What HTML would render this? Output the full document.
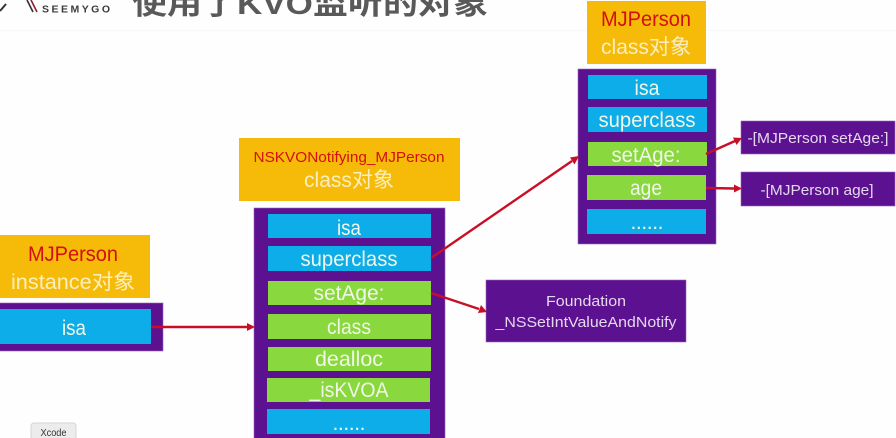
<!DOCTYPE html>
<html><head><meta charset="utf-8"><style>
html,body{margin:0;padding:0;background:#fefefe;width:896px;height:438px;overflow:hidden}
svg{display:block;filter:blur(.35px)}
text{font-family:"Liberation Sans","Noto Sans CJK SC",sans-serif}
.w{fill:#f2f6e8;font-size:21px;text-anchor:middle}
.r{fill:#d40f14;font-size:21px;text-anchor:middle}
.c{fill:#fbeec0;font-size:21px;text-anchor:middle}
.s{fill:#e4d8ec;font-size:15px;text-anchor:middle}
.o{fill:#f6bb08}.p{fill:#5c1190;stroke:#9a66b8;stroke-width:.6}.b{fill:#0cade9}.g{fill:#88d83e}
.a{stroke:#c90f25;stroke-width:2.4;fill:none}.h{fill:#c90f25}
</style></head><body>
<svg width="896" height="438" viewBox="0 0 896 438" xmlns="http://www.w3.org/2000/svg">
<rect width="896" height="438" fill="#fefefe"/>
<rect x="0" y="30" width="896" height="1" fill="#f7f7f7"/>
<path d="M0 11 L6 4" stroke="#333" stroke-width="2" fill="none"/>
<path d="M27 0 L33 12" stroke="#333" stroke-width="1.6" fill="none"/>
<path d="M31 0 L37 12" stroke="#8a1f35" stroke-width="1.6" fill="none"/>
<text x="42" y="12.500" font-size="10.500" font-weight="bold" fill="#3c3c3c" textLength="68" lengthAdjust="spacing">SEEMYGO</text>
<text x="132" y="14" font-size="30" font-weight="bold" fill="#595959" textLength="356" lengthAdjust="spacingAndGlyphs">使用了KVO监听的对象</text>

<!-- right class -->
<rect class="o" x="587" y="1" width="119" height="63"/>
<text class="r" x="646" y="26" textLength="90" lengthAdjust="spacingAndGlyphs">MJPerson</text>
<text class="c" x="646" y="54" textLength="90" lengthAdjust="spacingAndGlyphs">class对象</text>
<rect class="p" x="578" y="69" width="138" height="175"/>
<rect class="b" x="588" y="75" width="119" height="24"/>
<rect class="b" x="588" y="107" width="119" height="25"/>
<rect class="g" x="588" y="142" width="119" height="24"/>
<rect class="g" x="587" y="175" width="119" height="25"/>
<rect class="b" x="587" y="209" width="119" height="25"/>
<text class="w" x="647" y="95" textLength="25" lengthAdjust="spacingAndGlyphs">isa</text>
<text class="w" x="647" y="127" textLength="97" lengthAdjust="spacingAndGlyphs">superclass</text>
<text class="w" x="646" y="162" textLength="69" lengthAdjust="spacingAndGlyphs">setAge:</text>
<text class="w" x="646" y="195" textLength="32" lengthAdjust="spacingAndGlyphs">age</text>
<text class="w" x="647" y="229" textLength="33" lengthAdjust="spacing">......</text>

<rect class="p" x="741" y="121" width="154" height="33"/>
<text class="s" x="818" y="143" textLength="141" lengthAdjust="spacingAndGlyphs">-[MJPerson setAge:]</text>
<rect class="p" x="741" y="172" width="154" height="34"/>
<text class="s" x="817" y="195" textLength="113" lengthAdjust="spacingAndGlyphs">-[MJPerson age]</text>

<!-- middle class -->
<rect class="o" x="239" y="138" width="221" height="63"/>
<text class="r" x="349" y="162" style="font-size:15px" textLength="191" lengthAdjust="spacingAndGlyphs">NSKVONotifying_MJPerson</text>
<text class="c" x="349" y="187" textLength="90" lengthAdjust="spacingAndGlyphs">class对象</text>
<rect class="p" x="254" y="208" width="191" height="232"/>
<rect class="b" x="268" y="214" width="163" height="24"/>
<rect class="b" x="268" y="246" width="163" height="25"/>
<rect class="g" x="268" y="281" width="163" height="24"/>
<rect class="g" x="268" y="314" width="163" height="25"/>
<rect class="g" x="268" y="347" width="163" height="24"/>
<rect class="g" x="267" y="378" width="163" height="24"/>
<rect class="b" x="267" y="409" width="163" height="25"/>
<text class="w" x="349" y="235" textLength="24" lengthAdjust="spacingAndGlyphs">isa</text>
<text class="w" x="349" y="266" textLength="97" lengthAdjust="spacingAndGlyphs">superclass</text>
<text class="w" x="349" y="300" textLength="71" lengthAdjust="spacingAndGlyphs">setAge:</text>
<text class="w" x="349" y="334" textLength="44" lengthAdjust="spacingAndGlyphs">class</text>
<text class="w" x="349" y="366" textLength="68" lengthAdjust="spacingAndGlyphs">dealloc</text>
<text class="w" x="349" y="397" textLength="79" lengthAdjust="spacingAndGlyphs">_isKVOA</text>
<text class="w" x="349" y="430" textLength="33" lengthAdjust="spacing">......</text>

<!-- left instance -->
<rect class="o" x="-2" y="235" width="152" height="63"/>
<text class="r" x="73" y="261" textLength="90" lengthAdjust="spacingAndGlyphs">MJPerson</text>
<text class="c" x="73" y="289" textLength="124" lengthAdjust="spacingAndGlyphs">instance对象</text>
<rect class="p" x="-2" y="303" width="165" height="48"/>
<rect class="b" x="-2" y="309" width="153" height="35"/>
<text class="w" x="74" y="335" textLength="24" lengthAdjust="spacingAndGlyphs">isa</text>

<!-- Foundation -->
<rect class="p" x="486" y="280" width="200" height="62"/>
<text class="s" x="586" y="306" textLength="80" lengthAdjust="spacingAndGlyphs">Foundation</text>
<text class="s" x="586" y="327" textLength="181" lengthAdjust="spacingAndGlyphs">_NSSetIntValueAndNotify</text>

<!-- arrows -->
<line class="a" x1="151" y1="327" x2="247" y2="327"/><path class="h" d="M255 327 L247 323 V331Z"/>
<line class="a" x1="431" y1="258" x2="572" y2="161"/><path class="h" d="M579 156 L570 157.500 L574.500 164.500Z"/>
<line class="a" x1="431" y1="293" x2="479" y2="309"/><path class="h" d="M487 312 L481 305 L478 313Z"/>
<line class="a" x1="706" y1="154" x2="735" y2="141"/><path class="h" d="M742 138 L733 137.500 L736.500 145Z"/>
<line class="a" x1="706" y1="188" x2="734" y2="188.500"/><path class="h" d="M742 188.500 L734 184.500 V192.500Z"/>

<!-- Xcode tooltip -->
<rect x="31" y="423" width="45" height="20" rx="3" fill="#ececec" stroke="#d4d4d4"/>
<text x="53.500" y="436" font-size="10" fill="#333" text-anchor="middle" textLength="26" lengthAdjust="spacingAndGlyphs">Xcode</text>
</svg>
</body></html>
